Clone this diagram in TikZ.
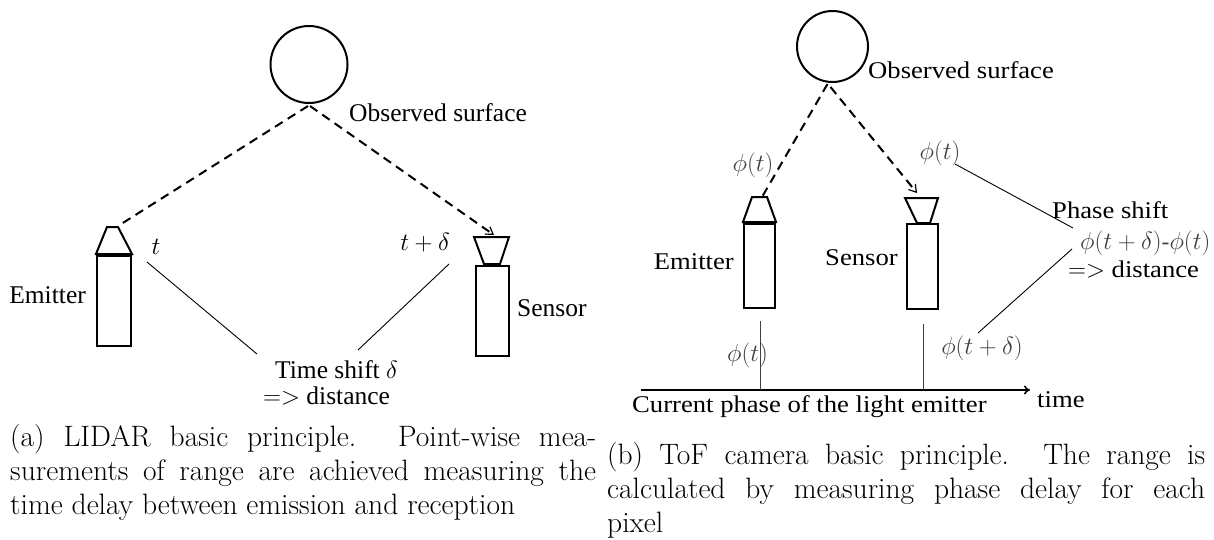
\documentclass[tikz,border=0pt]{standalone}
\usepackage{fontspec}
\setmainfont{Liberation Serif}
\newfontfamily\capfont{Latin Modern Roman}
\newfontfamily\palfont[FakeStretch=1.11]{Liberation Serif}
\usetikzlibrary{arrows.meta}
\begin{document}
\begin{tikzpicture}[x=1pt,y=-1pt,
  body/.style={line width=2pt, line join=miter},
  thinline/.style={line width=0.9pt},
  ray/.style={line width=2pt, dash pattern=on 9pt off 6pt},
  surf/.style={circle, draw, line width=2pt, inner sep=0pt},
  lbl/.style={inner sep=0pt, font=\fontsize{25.5}{30}\selectfont},
  rlbl/.style={inner sep=0pt, font=\palfont\fontsize{24}{28}\selectfont},
  rmath/.style={inner sep=0pt, text=black!75, font=\fontsize{23.5}{28}\selectfont},
  capt/.style={inner sep=0pt, anchor=base west, align=justify, font=\capfont\fontsize{29.5}{34}\selectfont}]
\useasboundingbox (0,0) rectangle (1214,539);

% ================= (a) LIDAR =================
\node[surf, minimum size=77pt] (surfA) at (309,64.5) {};
\node[lbl, anchor=base west] (obsA) at (349,121) {Observed surface};
% emitter
\draw[body] (107,227) -- (118,227) -- (132,254) -- (96,254) -- cycle;
\draw[body] (97,256) rectangle (131,346);
\coordinate (emA) at (118,226);
\node[lbl, anchor=base east] (emitA) at (86,303) {Emitter};
% sensor
\draw[body] (474,237) -- (509,237) -- (500,264) -- (484,264) -- cycle;
\draw[body] (476,266) rectangle (509,356);
\coordinate (seA) at (494,235);
\node[lbl, anchor=base west] (sensA) at (517,316) {Sensor};
% rays
\draw[ray] (surfA.south) ++(-1,2) -- (emA);
\draw[ray, -{Straight Barb[length=7pt,width=9pt,line width=1.2pt]}] (surfA.south) ++(1,2) -- (seA);
% labels
\node[lbl] (tA) at (156,247) {$t$};
\node[lbl] (tdA) at (425,243) {$t+\delta$};
\node[lbl, anchor=base west] (shiftA) at (275,378) {Time shift $\delta$};
\node[lbl, anchor=base west] (distA) at (263,404) {$=>$ distance};
\coordinate (tA1) at (147,262);
\coordinate (tA2) at (257,354);
\coordinate (tdA1) at (449,264);
\coordinate (tdA2) at (358,350);
\draw[thinline] (tA1) -- (tA2);
\draw[thinline] (tdA1) -- (tdA2);
\node[capt, text width=586pt] (capA) at (10,446) {(a) LIDAR basic principle. Point-wise mea-\linebreak surements of range are achieved measuring the\linebreak time delay between emission and reception};

% ================= (b) ToF =================
\node[surf, minimum size=71pt] (surfB) at (832.5,46.5) {};
\node[rlbl, anchor=base west] (obsB) at (868,78) {Observed surface};
% emitter
\draw[body] (752,197) -- (767,197) -- (776,222) -- (743,222) -- cycle;
\draw[body] (744,224) rectangle (775,308);
\coordinate (emB) at (762,197);
\node[rlbl, anchor=base east] (emitB) at (734,269) {Emitter};
% sensor
\draw[body] (905,198) -- (938,198) -- (930,223) -- (917,223) -- cycle;
\draw[body] (907,224) rectangle (938,309);
\coordinate (seB) at (917,193);
\node[rlbl, anchor=base west] (sensB) at (825,265) {Sensor};
% rays
\draw[ray] (surfB.south) ++(-5,1) -- (emB);
\draw[ray, -{Straight Barb[length=7pt,width=9pt,line width=1.2pt]}] (surfB.south) ++(-2,4) -- (seB);
\node[rmath] (phiB1) at (753,165) {$\phi(t)$};
% phase shift
\node[rmath] (phiB2) at (940,153) {$\phi(t)$};
\node[rlbl, anchor=base west] (phase) at (1052,218) {Phase shift};
\node[rmath, anchor=west] (diff) at (1080,243) {$\phi(t+\delta)$-$\phi(t)$};
\node[rlbl, anchor=base west] (distB) at (1068,277) {$=>$ distance};
\node[rmath] (phiB3) at (982,348) {$\phi(t+\delta)$};
\coordinate (pB1) at (955,164);
\coordinate (pB2) at (1073,228);
\coordinate (pB3) at (1072,249);
\coordinate (pB4) at (978,333);
\draw[thinline] (pB1) -- (pB2);
\draw[thinline] (pB3) -- (pB4);
% time axis
\node[rlbl, anchor=base west] (timeL) at (1037,407) {time};
\coordinate (axS) at (641,390);
\coordinate (axE) at (1030,390);
\draw[line width=1.6pt, -{To[length=6pt,width=9pt]}] (axS) -- (axE);
\coordinate (vE1) at (760,321);
\coordinate (vE2) at (760,390);
\coordinate (vS1) at (923,324);
\coordinate (vS2) at (923,390);
\draw[thinline, black!75] (vE1) -- (vE2);
\draw[thinline, black!75] (vS1) -- (vS2);
\node[rmath] (phiB4) at (747.5,355) {$\phi(t)$};
\node[rlbl, anchor=base west] (curr) at (632,412) {Current phase of the light emitter};
\node[capt, text width=598pt] (capB) at (607,464) {(b) ToF camera basic principle. The range is\linebreak calculated by measuring phase delay for each\linebreak pixel};
\end{tikzpicture}
\end{document}
